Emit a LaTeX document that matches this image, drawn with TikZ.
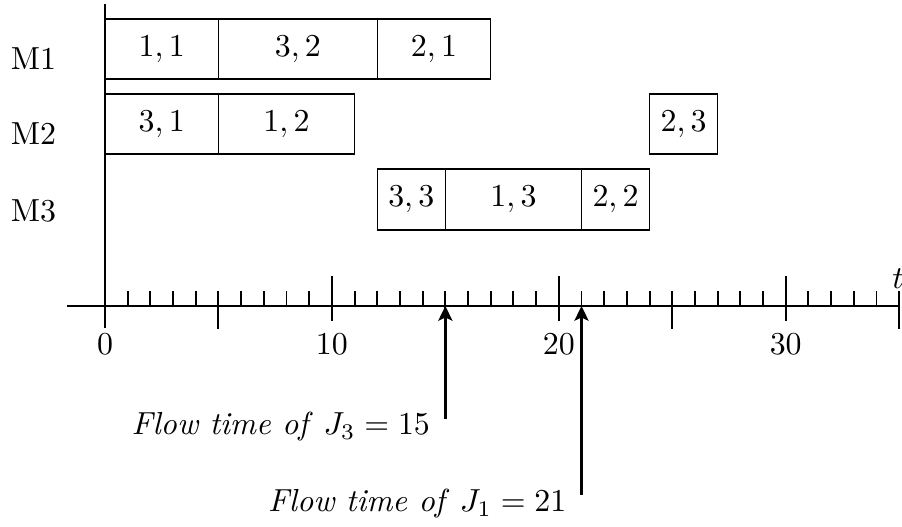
\documentclass[tikz,border=0pt]{standalone}
\usetikzlibrary{arrows.meta}
\begin{document}
\begin{tikzpicture}[x=0.25cm,y=1cm,
  jobbox/.style={draw, rectangle, line width=0.4pt, inner sep=0pt, minimum height=0.661cm},
  axisline/.style={line width=0.6pt},
  tickline/.style={line width=0.6pt},
  flowarrow/.style={line width=1pt,-{Stealth[length=4.6pt,width=4.4pt,inset=1pt]}},
  machine/.style={inner sep=0pt},
  ticklabel/.style={inner sep=0pt},
  flowlabel/.style={inner sep=0pt, anchor=base east}]
\useasboundingbox (-4.6276,-2.435) rectangle (35.125,3.3715);
% axes
\coordinate (xl) at (-1.675,0);
\coordinate (xr) at (35,0);
\coordinate (yb) at (0,-0.242);
\coordinate (yt) at (0,3.327);
\draw[axisline] (xl) -- (xr);
\draw[axisline] (yb) -- (yt);
% ticks
\foreach \i in {1,2,3,4,6,7,8,9,11,12,13,14,16,17,18,19,21,22,23,24,26,27,28,29,31,32,33,34}
  \draw[tickline] (\i,0) -- (\i,0.165);
\foreach \i in {5,15,25,35}
  \draw[tickline] (\i,0.165) -- (\i,-0.253);
\foreach \i in {10,20,30}
  \draw[tickline] (\i,0.33) -- (\i,-0.165);
% tick labels
\node[ticklabel] (l0) at (0,-0.419) {$0$};
\node[ticklabel] (l10) at (10,-0.419) {$10$};
\node[ticklabel] (l20) at (20,-0.419) {$20$};
\node[ticklabel] (l30) at (30,-0.419) {$30$};
\node[ticklabel] (tl) at (34.95,0.297) {$t$};
% machine labels
\node[machine] (m1) at (-3.156,2.73) {M1};
\node[machine] (m2) at (-3.156,1.90) {M2};
\node[machine] (m3) at (-3.156,1.052) {M3};
% jobs M1
\node[jobbox, minimum width=1.25cm] (j11) at (2.5,2.8315) {$1,1$};
\node[jobbox, minimum width=1.75cm] (j32) at (8.5,2.8315) {$3,2$};
\node[jobbox, minimum width=1.25cm] (j21) at (14.5,2.8315) {$2,1$};
% jobs M2
\node[jobbox, minimum width=1.25cm] (j31) at (2.5,2.0055) {$3,1$};
\node[jobbox, minimum width=1.5cm] (j12) at (8,2.0055) {$1,2$};
\node[jobbox, minimum width=0.75cm] (j23) at (25.5,2.0055) {$2,3$};
% jobs M3
\node[jobbox, minimum width=0.75cm, minimum height=0.672cm] (j33) at (13.5,1.173) {$3,3$};
\node[jobbox, minimum width=1.5cm, minimum height=0.672cm] (j13) at (18,1.173) {$1,3$};
\node[jobbox, minimum width=0.75cm, minimum height=0.672cm] (j22) at (22.5,1.173) {$2,2$};
% flow time arrows
\coordinate (f3s) at (15,-1.245);
\coordinate (f3e) at (15,0);
\coordinate (f1s) at (21,-2.082);
\coordinate (f1e) at (21,0);
\draw[flowarrow] (f3s) -- (f3e);
\draw[flowarrow] (f1s) -- (f1e);
\node[flowlabel] (lab3) at (14.35,-1.421) {\textit{Flow time of} $J_3=15$};
\node[flowlabel] (lab1) at (20.36,-2.266) {\textit{Flow time of} $J_1=21$};
\end{tikzpicture}
\end{document}
